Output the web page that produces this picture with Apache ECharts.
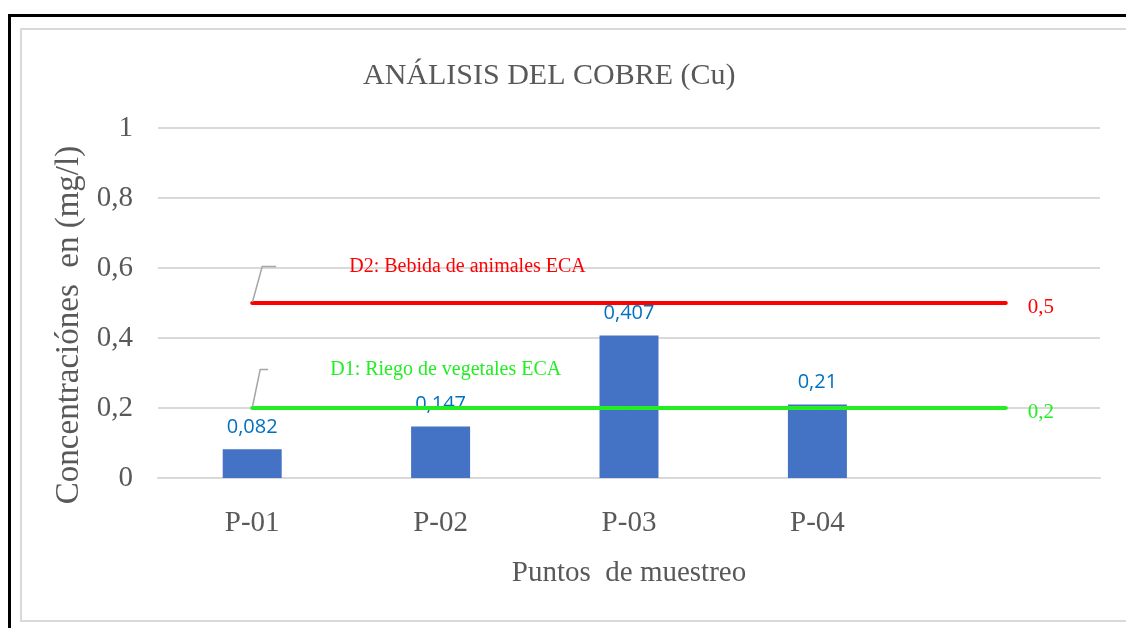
<!DOCTYPE html>
<html>
<head>
<meta charset="utf-8">
<title>Análisis del cobre</title>
<script src="https://cdn.jsdelivr.net/npm/echarts@6/dist/echarts.min.js"></script>
<style>
  html, body { margin: 0; padding: 0; background: #fff; }
  #marco { position: absolute; left: 8px; top: 14px; width: 1200px; height: 700px;
           border-top: 3px solid #000; border-left: 3px solid #000; }
  #borde { position: absolute; left: 20px; top: 28px; width: 1200px; height: 590px;
           border: 2px solid #d9d9d9; }
  #grafico { position: absolute; left: 0; top: 0; width: 1126px; height: 628px; }
</style>
</head>
<body>
<div id="marco"></div>
<div id="borde"></div>
<div id="grafico"></div>
<script>
// datos
var puntos = ['P-01', 'P-02', 'P-03', 'P-04', ''];
var cobre = [0.082, 0.147, 0.407, 0.21];
var limiteD2 = [0.5, 0.5, 0.5, 0.5, 0.5];
var limiteD1 = [0.2, 0.2, 0.2, 0.2, 0.2];
var nombreD2 = 'D2: Bebida de animales ECA';
var nombreD1 = 'D1: Riego de vegetales ECA';

var gris = '#595959';
var serif = 'Liberation Serif';

function coma(v) {
    return String(v).replace('.', ',');
}

// el primer punto lleva la etiqueta con su linea guia
function limite(valores, nombre, color, distancia, hueco, largo) {
    return valores.map(function (v, i) {
        if (i !== 0) return v;
        return {
            value: v,
            label: {
                show: true, position: 'right', distance: distancia,
                formatter: '{h|}{t|' + nombre + '}',
                rich: {
                    h: { width: hueco, height: 24 },
                    t: { color: color, fontFamily: serif, fontSize: 20, padding: [5, 0, 0, 0] }
                }
            },
            labelLine: { show: true, length2: largo, lineStyle: { color: '#a6a6a6', width: 1.5 } }
        };
    });
}

function serieLimite(nombre, valores, color, distancia, hueco, largo, dy) {
    return {
        name: nombre,
        type: 'line',
        data: limite(valores, nombre, color, distancia, hueco, largo),
        symbol: 'circle',
        symbolSize: 2,
        itemStyle: { color: color },
        lineStyle: { color: color, width: 4, cap: 'round' },
        z: 5,
        labelLayout: function (params) {
            return params.dataIndex === 0 ? { dy: dy } : {};
        },
        endLabel: {
            show: true,
            formatter: function (p) { return coma(p.value); },
            color: color, fontFamily: serif, fontSize: 21,
            distance: 22, offset: [0, 4]
        }
    };
}

var chart = echarts.init(document.getElementById('grafico'));
chart.setOption({
    animation: false,
    title: {
        text: 'ANÁLISIS DEL COBRE (Cu)',
        left: 358, top: 56,
        textStyle: { fontFamily: serif, fontSize: 30, fontWeight: 'normal', color: gris }
    },
    grid: { left: 158, right: 26, top: 128, bottom: 150 },
    xAxis: {
        type: 'category',
        data: puntos,
        name: 'Puntos  de muestreo',
        nameLocation: 'middle',
        nameGap: 81,
        nameTextStyle: { fontFamily: serif, fontSize: 29, color: gris },
        axisLine: { lineStyle: { color: '#d9d9d9', width: 2 } },
        axisTick: { show: false },
        axisLabel: { margin: 31, fontFamily: serif, fontSize: 29, color: gris }
    },
    yAxis: {
        type: 'value',
        min: 0, max: 1, interval: 0.2,
        name: 'Concentraciónes  en (mg/l)',
        nameLocation: 'middle',
        nameGap: 70,
        nameTextStyle: { fontFamily: serif, fontSize: 33, color: gris, padding: [0, 44, 0, 0] },
        axisLine: { show: false },
        axisTick: { show: false },
        splitLine: { lineStyle: { color: '#d9d9d9', width: 2 } },
        axisLabel: { margin: 25, fontFamily: serif, fontSize: 29, color: gris, formatter: coma }
    },
    series: [
        {
            name: 'Cobre',
            type: 'bar',
            data: cobre,
            barWidth: 59,
            itemStyle: { color: '#4472c4' },
            label: {
                show: true, position: 'top', distance: 12,
                color: '#0070c0', fontFamily: 'Open Sans', fontSize: 20,
                formatter: function (p) { return coma(p.value); }
            }
        },
        serieLimite(nombreD2, limiteD2, '#ff0000', 23, 73, 14, -39),
        serieLimite(nombreD1, limiteD1, '#22ee22', 15, 62, 8, -41)
    ]
});
</script>
</body>
</html>
